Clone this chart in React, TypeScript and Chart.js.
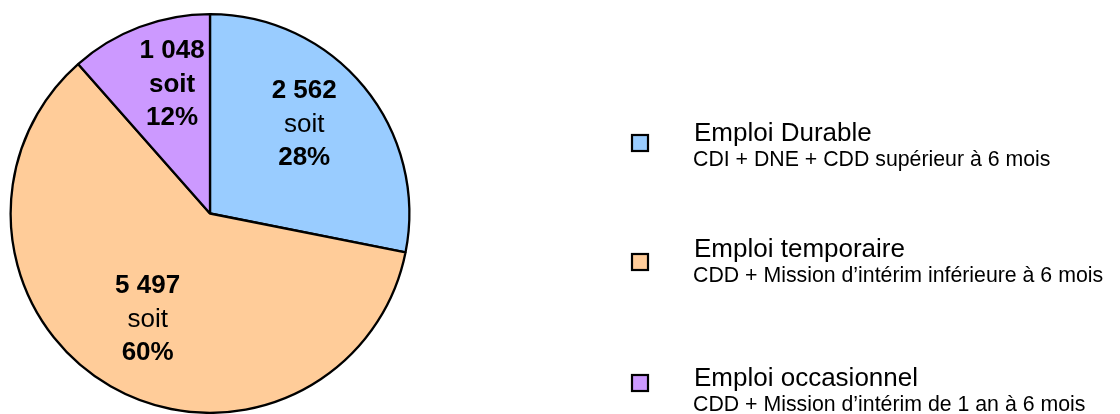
import React, { useEffect, useRef } from "react";
import { Chart, registerables } from "chart.js";

Chart.register(...registerables);

const categories = ["Emploi Durable", "Emploi temporaire", "Emploi occasionnel"];
const subtitles = [
  "CDI + DNE + CDD supérieur à 6 mois",
  "CDD + Mission d\u2019intérim inférieure à 6 mois",
  "CDD + Mission d\u2019intérim de 1 an à 6 mois",
];
const values = [2562, 5497, 1048];
const valueLabels = ["2 562", "5 497", "1 048"];
const percentLabels = ["28%", "60%", "12%"];
const colors = ["#99CCFF", "#FFCC99", "#CC99FF"];

const FONT = "'Liberation Sans', Arial, Helvetica, sans-serif";

// layout constants
const labelRadius = 127;
const labelNudge = [
  [-4, -1],
  [1, 3],
  [7, -3],
];
const soitBold = [false, false, true];
const lineGap = 33.5;
const legendTitleY = [140.5, 257, 386];
const legendSquareY = [143, 262, 383];
const legendSquareX = 640;
const legendTextX = 694;

const labelPlugin = {
  id: "sliceLabels",
  afterDatasetsDraw(chart: any) {
    const ctx = chart.ctx;
    const meta = chart.getDatasetMeta(0);
    ctx.save();
    ctx.fillStyle = "#000";
    ctx.textAlign = "center";
    ctx.textBaseline = "alphabetic";
    meta.data.forEach((arc: any, i: number) => {
      const { x, y, startAngle, endAngle } = arc.getProps(["x", "y", "startAngle", "endAngle"], true);
      const mid = (startAngle + endAngle) / 2;
      const cx = x + Math.cos(mid) * labelRadius + labelNudge[i][0];
      const cy = y + Math.sin(mid) * labelRadius + labelNudge[i][1];
      ctx.font = `bold 26px ${FONT}`;
      ctx.fillText(valueLabels[i], cx, cy - lineGap);
      ctx.font = `${soitBold[i] ? "bold " : ""}26px ${FONT}`;
      ctx.fillText("soit", cx, cy);
      ctx.font = `bold 26px ${FONT}`;
      ctx.fillText(percentLabels[i], cx, cy + lineGap);
    });
    ctx.restore();
  },
  afterDraw(chart: any) {
    const ctx = chart.ctx;
    ctx.save();
    categories.forEach((cat, i) => {
      const sq = 16;
      ctx.fillStyle = colors[i];
      ctx.fillRect(legendSquareX - sq / 2, legendSquareY[i] - sq / 2, sq, sq);
      ctx.strokeStyle = "#000";
      ctx.lineWidth = 2.2;
      ctx.strokeRect(legendSquareX - sq / 2, legendSquareY[i] - sq / 2, sq, sq);
      ctx.fillStyle = "#000";
      ctx.textAlign = "left";
      ctx.textBaseline = "alphabetic";
      ctx.font = `26px ${FONT}`;
      ctx.fillText(cat, legendTextX, legendTitleY[i]);
      ctx.font = `21.3px ${FONT}`;
      ctx.fillText(subtitles[i], legendTextX - 1, legendTitleY[i] + 25);
    });
    ctx.restore();
  },
};

export default function App() {
  const ref = useRef<HTMLCanvasElement>(null);
  useEffect(() => {
    const prevMargin = document.body.style.margin;
    document.body.style.margin = "0";
    const chart = new Chart(ref.current!, {
      type: "pie",
      data: {
        labels: categories,
        datasets: [
          {
            data: values,
            backgroundColor: colors,
            borderColor: "#000",
            borderWidth: 2.3,
          },
        ],
      },
      options: {
        responsive: false,
        animation: false,
        layout: { padding: { left: 9.5, right: 709.5, top: 13, bottom: 0 } },
        plugins: {
          legend: { display: false },
          tooltip: { enabled: false },
        },
      },
      plugins: [labelPlugin],
    });
    return () => {
      chart.destroy();
      document.body.style.margin = prevMargin;
    };
  }, []);
  return (
    <div style={{ position: "absolute", left: 0, top: 0, width: 1120, height: 414, background: "#fff" }}>
      <canvas ref={ref} width={1120} height={414} style={{ width: 1120, height: 414 }} />
    </div>
  );
}
